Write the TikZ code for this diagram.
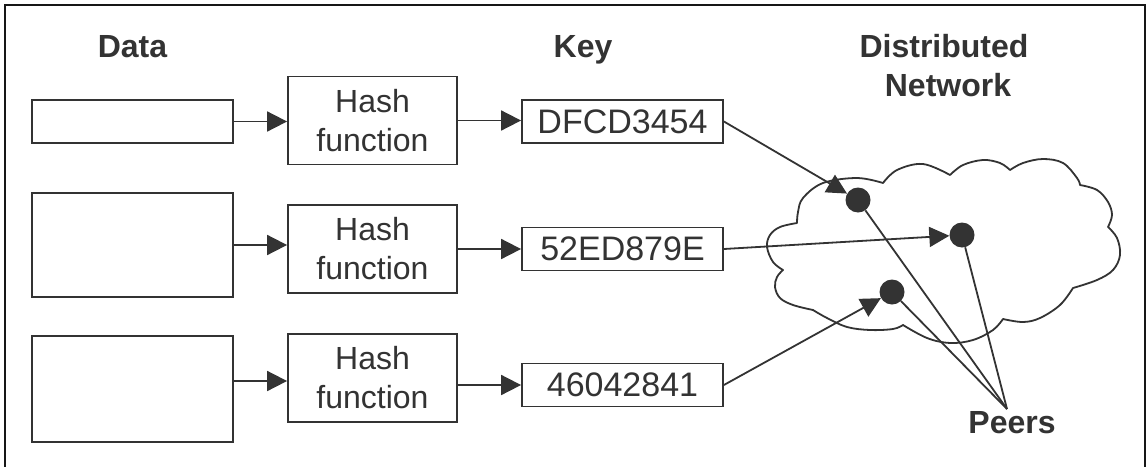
\documentclass[tikz,border=0pt]{standalone}
\usepackage{fontspec}
\setmainfont{Liberation Sans}
\usetikzlibrary{arrows.meta}
\definecolor{ink}{HTML}{333333}
\definecolor{framecol}{HTML}{161616}
\begin{document}
\begin{tikzpicture}[x=1pt,y=-1pt,
  box/.style={draw=ink, line width=1.8pt, inner sep=0pt, anchor=center},
  databox/.style={box, minimum width=201pt},
  hashbox/.style={box, minimum width=169pt, minimum height=88pt, align=center,
    font=\fontsize{32}{39}\selectfont, text=ink},
  keybox/.style={box, minimum width=201pt, minimum height=43pt,
    font=\fontsize{34}{40}\selectfont, text=ink},
  head/.style={font=\bfseries\fontsize{32}{39}\selectfont, text=ink, anchor=base, inner sep=0pt},
  peer/.style={circle, fill=ink, minimum size=25pt, inner sep=0pt},
  arr/.style={draw=ink, line width=1.8pt, -{Triangle[length=20pt,width=20pt]}},
  link/.style={draw=ink, line width=1.8pt},
  cloudline/.style={draw=ink, line width=1.8pt, line join=round},
  framestyle/.style={draw=framecol, line width=2.6pt}
]
\path[fill=white, use as bounding box] (0,0) rectangle (1147,466);

% frame (open at the bottom)
\draw[framestyle] (5,467) -- (5,5) -- (1145,5) -- (1145,467);

% headers
\node[head] (hdata) at (132.5,57) {Data};
\node[head] (hkey) at (583,57) {Key};
\node[head] (hdist) at (944,57) {Distributed};
\node[head] (hnet) at (948,96) {Network};

% data boxes
\node[databox, minimum height=43pt] (d1) at (132.5,121.5) {};
\node[databox, minimum height=104pt] (d2) at (132.5,245) {};
\node[databox, minimum height=106pt] (d3) at (132.5,389) {};

% hash boxes
\node[hashbox] (h1) at (372.5,120.5) {Hash\\function};
\node[hashbox] (h2) at (372.5,249) {Hash\\function};
\node[hashbox] (h3) at (372.5,378) {Hash\\function};

% key boxes
\node[keybox] (k1) at (622.5,121.5) {DFCD3454};
\node[keybox] (k2) at (622.5,249) {52ED879E};
\node[keybox] (k3) at (622.5,385) {46042841};

% cloud
\draw[cloudline]
  plot[smooth, tension=0.6] coordinates {(883,183) (897,170) (923,164) (950,175)}
  -- plot[smooth, tension=0.6] coordinates {(950,175) (963,165) (983,160) (1000,163) (1010,170)}
  -- plot[smooth, tension=0.6] coordinates {(1010,170) (1023,163) (1043,159) (1063,163) (1077,178) (1080,185)}
  -- plot[smooth, tension=0.6] coordinates {(1080,185) (1097,190) (1108,202) (1112,215) (1108,227)}
  -- plot[smooth, tension=0.6] coordinates {(1108,227) (1117,238) (1120,255) (1113,270) (1097,280) (1073,288)}
  -- plot[smooth, tension=0.6] coordinates {(1073,288) (1060,305) (1040,318) (1023,322) (1003,319)}
  -- plot[smooth, tension=0.6] coordinates {(1003,319) (993,330) (973,340) (950,343) (927,338) (903,325)}
  -- plot[smooth, tension=0.6] coordinates {(903,325) (893,329) (870,330) (847,327) (827,318) (813,310)}
  -- plot[smooth, tension=0.6] coordinates {(813,310) (793,305) (780,298) (775,287) (777,277) (783,270)}
  -- plot[smooth, tension=0.6] coordinates {(783,270) (773,262) (767,247) (770,235) (780,227) (797,223)}
  -- plot[smooth, tension=0.6] coordinates {(797,223) (798,212) (803,198) (823,183) (857,178) (883,183)}
  -- cycle;

% peers
\node[peer] (p1) at (858,200) {};
\node[peer] (p2) at (962,235) {};
\node[peer] (p3) at (892,292) {};
\node[head] (peers) at (1012,433) {Peers};
\coordinate (pc) at (1007,409);

% data -> hash
\draw[arr] (d1.east) -- (h1.west |- d1.east);
\draw[arr] (d2.east) -- (h2.west |- d2.east);
\coordinate (a3) at ([yshift=8pt]d3.east);
\draw[arr] (a3) -- (h3.west |- a3);

% hash -> key
\draw[arr] (h1.east) -- (k1.west |- h1.east);
\draw[arr] (h2.east) -- (k2.west |- h2.east);
\draw[arr] (h3.east |- k3.west) -- (k3.west);

% key -> peer
\draw[arr] (k1.east) -- (p1);
\draw[arr] (k2.east) -- (p2);
\draw[arr] (k3.east) -- (p3);

% peers label lines
\draw[link] (p1) -- (pc);
\draw[link] (p2) -- (pc);
\draw[link] (p3) -- (pc);
\end{tikzpicture}
\end{document}
